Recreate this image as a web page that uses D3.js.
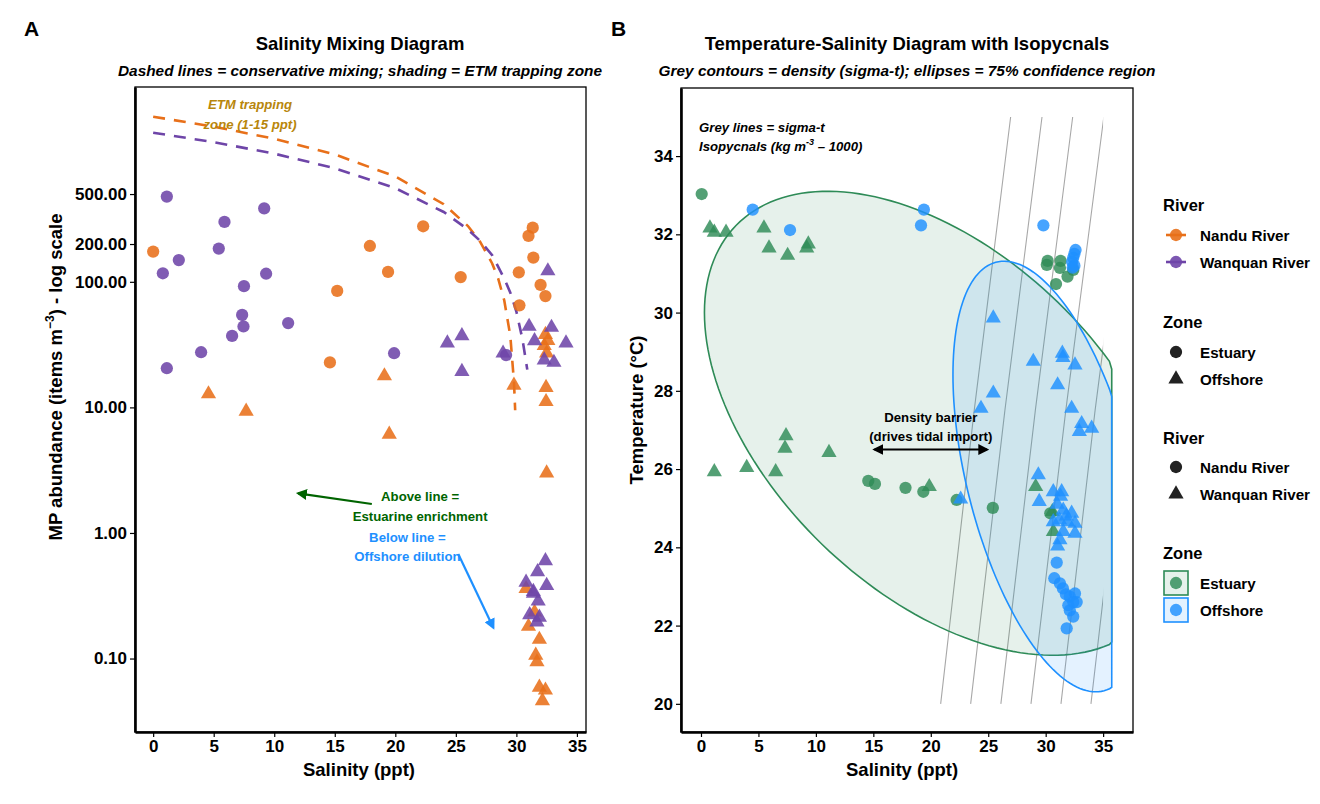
<!DOCTYPE html>
<html lang="en">
  <head>
    <meta charset="UTF-8" />
    <title>Salinity mixing and T-S diagram</title>
    <style>
      body { margin: 0; background: #fff; }
      text { font-family: "Liberation Sans", Arial, sans-serif; }
    </style>
  </head>
  <body>
    <svg id="svg" width="1320" height="804"></svg>

    <script src="https://d3js.org/d3.v7.min.js"></script>
    <script>
      // ---- panel A data: salinity (ppt) and MP abundance (items m-3)
      const nanduEstuaryA = [
        [0.0, 174], [14.6, 22.8], [15.2, 84.7], [17.9, 193], [19.4, 120], [22.3, 277],
        [25.4, 109], [30.2, 119], [30.25, 65], [31.0, 232], [31.35, 270], [31.4, 156],
        [32.0, 94.5], [32.4, 77]
      ];
      const wanquanEstuaryA = [
        [0.8, 117], [1.13, 477], [1.13, 20.5], [2.12, 149], [3.96, 27.5], [5.42, 184],
        [5.89, 300], [6.52, 37.1], [7.35, 54.5], [7.46, 44.1], [7.5, 92.3], [9.17, 385],
        [9.33, 116], [11.15, 46.9], [19.9, 27.0], [29.15, 26.1]
      ];
      const nanduOffshoreA = [
        [4.57, 12.8], [7.68, 9.3], [19.1, 17.8], [19.5, 6.1], [29.8, 15.0], [32.45, 14.4],
        [32.45, 11.1], [32.4, 38], [32.6, 34], [32.3, 31], [32.5, 27], [32.5, 3.0],
        [30.8, 0.36], [31.0, 0.18], [31.5, 0.234], [31.9, 0.142], [31.6, 0.106],
        [31.7, 0.094], [31.9, 0.059], [32.4, 0.056], [32.15, 0.046]
      ];
      const wanquanOffshoreA = [
        [24.3, 32.5], [25.5, 37.2], [25.5, 19.3], [28.9, 27.0], [31.05, 44.1], [31.5, 33.9],
        [32.6, 122], [32.9, 43.3], [34.1, 32.5], [32.3, 23.8], [33.1, 22.8],
        [32.4, 0.6], [31.75, 0.49], [30.8, 0.405], [32.5, 0.381], [31.4, 0.341],
        [31.8, 0.286], [31.1, 0.223], [31.9, 0.213], [31.7, 0.195], [31.4, 0.33]
      ];
      // conservative mixing lines
      const mixNandu = [
        [0, 2065], [5, 1721], [10, 1378], [15, 1034], [20, 690], [24, 415], [26, 278],
        [27, 209], [28, 140], [28.5, 106], [29, 71], [29.5, 37], [29.8, 16], [29.9, 9.5]
      ];
      const mixWanquan = [
        [0, 1541], [5, 1295], [10, 1049], [15, 803], [20, 557], [24, 360], [26, 261],
        [27, 212], [28, 163], [29, 106], [29.5, 82], [30, 58], [30.5, 35], [30.9, 20]
      ];
      const salTicks = [0, 5, 10, 15, 20, 25, 30, 35];
      const mpTicks = [0.1, 1, 10, 100, 200, 500];
      const mpLabels = ["0.10", "1.00", "10.00", "100.00", "200.00", "500.00"];

      // ---- panel B data: salinity (ppt) and temperature (degC)
      const estuaryNanduB = [
        [0.06, 33.03], [14.56, 25.7], [15.14, 25.62], [17.8, 25.52], [19.35, 25.42],
        [22.25, 25.21], [25.4, 25.01], [30.17, 31.32], [30.1, 31.22], [31.3, 31.32],
        [31.24, 31.14], [31.9, 30.92], [30.9, 30.73], [32.4, 31.09], [30.4, 24.87]
      ];
      const estuaryWanquanB = [
        [0.78, 32.16], [1.16, 32.05], [2.18, 32.05], [5.48, 32.16], [5.92, 31.65],
        [7.54, 31.46], [9.34, 31.75], [9.2, 31.65], [1.16, 25.93], [3.98, 26.04],
        [6.5, 25.93], [7.4, 26.85], [7.31, 26.53], [11.14, 26.42], [19.87, 25.55],
        [29.13, 25.55], [30.58, 24.91], [30.67, 24.4]
      ];
      const offshoreNanduB = [
        [4.5, 32.63], [7.75, 32.11], [19.4, 32.63], [19.15, 32.23], [29.8, 32.23],
        [32.6, 31.6], [32.5, 31.5], [32.4, 31.4], [32.3, 31.3], [32.5, 31.2], [32.35, 31.15],
        [30.96, 23.61], [30.75, 23.21], [31.24, 23.08], [31.5, 22.95], [31.76, 22.8],
        [32.1, 22.74], [32.55, 22.82], [32.4, 22.6], [31.97, 22.52], [32.1, 22.39],
        [32.4, 22.23], [31.83, 21.93], [32.7, 22.6]
      ];
      const offshoreWanquanB = [
        [22.6, 25.23], [25.44, 29.86], [28.92, 28.75], [31.45, 28.96], [31.5, 28.85],
        [32.55, 28.66], [31.04, 28.15], [25.44, 27.94], [24.37, 27.55], [32.26, 27.55],
        [33.13, 27.16], [32.93, 26.96], [34.0, 27.04], [29.36, 25.85], [29.44, 25.17],
        [30.66, 25.42], [31.39, 25.42], [31.0, 25.1], [31.53, 24.95], [32.26, 24.87],
        [30.66, 24.65], [31.2, 24.7], [31.9, 24.65], [32.55, 24.61], [31.53, 24.4],
        [32.55, 24.36], [31.24, 24.19], [31.04, 24.03], [31.3, 25.3], [31.8, 24.8]
      ];
      // sigma-t isopycnals: salinity at T = 20, 27.5, 35 degC
      const isoTemps = [20, 27.5, 35];
      const isoSal = [
        [20.86, 23.78, 26.95], [23.47, 26.45, 29.68], [26.1, 29.1, 32.35],
        [28.72, 31.75, 35.06], [31.33, 34.3, 37.6], [33.94, 36.9, 40.2]
      ];
      // 75% ellipses: centre, half-diameter along x (with its T shift), vertical conjugate
      const ellipseEstuary = { s: 20.8, t: 27.17, ds: -20.5, dt: 2.83, vt: 5.21 };
      const ellipseOffshore = { s: 30.37, t: 25.81, ds: -8.44, dt: 2.6, vt: 4.85 };
      const tempTicks = [20, 22, 24, 26, 28, 30, 32, 34];

      const orange = "#E8701A", purple = "#6E45A8";
      const green = "#2E8B57", blue = "#1E90FF";

      const svg = d3.select("#svg");
      svg.append("rect").attr("width", 1320).attr("height", 804).attr("fill", "#fff");

      const defs = svg.append("defs");
      function marker(id, color) {
        defs.append("marker")
          .attr("id", id).attr("viewBox", "0 0 10 10")
          .attr("refX", 8).attr("refY", 5)
          .attr("markerWidth", 5).attr("markerHeight", 5)
          .attr("orient", "auto-start-reverse")
          .append("path").attr("d", "M0,0 L10,5 L0,10 z").attr("fill", color);
      }
      marker("arrGreen", "#006400");
      marker("arrBlue", blue);
      marker("arrBlack", "#000");

      const circ = d3.symbol().type(d3.symbolCircle).size(118)();
      const tri = d3.symbol().type(d3.symbolTriangle).size(100)();

      function styleAxis(g) {
        g.selectAll(".tick text").attr("font-size", 17).attr("font-weight", "bold")
          .attr("fill", "#000").style("font-family", "'Liberation Sans', Arial, sans-serif");
        g.selectAll(".tick line").attr("stroke", "#000").attr("stroke-width", 1.2);
        g.select(".domain").attr("stroke", "#000").attr("stroke-width", 2.6);
      }

      function panelFrame(x0, x1, y0, y1) {
        svg.append("rect").attr("x", x0).attr("y", y0)
          .attr("width", x1 - x0).attr("height", y1 - y0)
          .attr("fill", "none").attr("stroke", "#000").attr("stroke-width", 1.3);
      }

      function title(cx, main, sub) {
        svg.append("text").attr("x", cx).attr("y", 50).attr("text-anchor", "middle")
          .attr("font-size", 18.5).attr("font-weight", "bold").text(main);
        svg.append("text").attr("x", cx).attr("y", 76).attr("text-anchor", "middle")
          .attr("font-size", 15.4).attr("font-weight", "bold").attr("font-style", "italic").text(sub);
      }

      // ================= Panel A =================
      const xA = d3.scaleLinear().domain([-1.5, 35.75]).range([135, 586]);
      const yA = d3.scaleLog().domain([0.026, 3560]).range([732, 87]);

      svg.append("text").attr("x", 24).attr("y", 36).attr("font-size", 21)
        .attr("font-weight", "bold").text("A");
      title(360, "Salinity Mixing Diagram",
        "Dashed lines = conservative mixing; shading = ETM trapping zone");
      panelFrame(135, 586, 87, 732);

      const gA = svg.append("g");
      const lineA = d3.line().x(d => xA(d[0])).y(d => yA(d[1]));
      gA.append("path").datum(mixNandu).attr("d", lineA).attr("fill", "none")
        .attr("stroke", orange).attr("stroke-width", 2.6).attr("stroke-dasharray", "12,9");
      gA.append("path").datum(mixWanquan).attr("d", lineA).attr("fill", "none")
        .attr("stroke", purple).attr("stroke-width", 2.6).attr("stroke-dasharray", "12,9");

      function pointsA(data, color, shape) {
        gA.append("g").selectAll("path").data(data).join("path")
          .attr("d", shape)
          .attr("transform", d => `translate(${xA(d[0])},${yA(d[1])})`)
          .attr("fill", color).attr("opacity", 0.88);
      }
      pointsA(nanduEstuaryA, orange, circ);
      pointsA(wanquanEstuaryA, purple, circ);
      pointsA(nanduOffshoreA, orange, tri);
      pointsA(wanquanOffshoreA, purple, tri);

      // annotations A
      const etm = svg.append("text").attr("text-anchor", "middle").attr("font-size", 13.2)
        .attr("font-weight", "bold").attr("font-style", "italic").attr("fill", "#B8860B");
      etm.append("tspan").attr("x", xA(8)).attr("y", yA(2588) + 5).text("ETM trapping");
      etm.append("tspan").attr("x", xA(8)).attr("y", yA(1791) + 5).text("zone (1-15 ppt)");

      svg.append("line").attr("x1", xA(18.06)).attr("y1", yA(1.7))
        .attr("x2", xA(11.97)).attr("y2", yA(2.07))
        .attr("stroke", "#006400").attr("stroke-width", 2.2).attr("marker-end", "url(#arrGreen)");
      const above = svg.append("text").attr("text-anchor", "middle").attr("font-size", 13.2)
        .attr("font-weight", "bold").attr("fill", "#006400");
      above.append("tspan").attr("x", xA(22.05)).attr("y", yA(1.97) + 5).text("Above line =");
      above.append("tspan").attr("x", xA(22.05)).attr("y", yA(1.36) + 5).text("Estuarine enrichment");

      const below = svg.append("text").attr("text-anchor", "middle").attr("font-size", 13.2)
        .attr("font-weight", "bold").attr("fill", blue);
      below.append("tspan").attr("x", xA(21)).attr("y", yA(0.93) + 5).text("Below line =");
      below.append("tspan").attr("x", xA(21)).attr("y", yA(0.656) + 5).text("Offshore dilution");
      svg.append("line").attr("x1", xA(25.2)).attr("y1", yA(0.68))
        .attr("x2", xA(28.1)).attr("y2", yA(0.176))
        .attr("stroke", blue).attr("stroke-width", 2.2).attr("marker-end", "url(#arrBlue)");

      // axes A
      svg.append("g").attr("transform", "translate(0,732)")
        .call(d3.axisBottom(xA).tickValues(salTicks).tickSize(5).tickSizeOuter(0).tickPadding(3))
        .call(styleAxis);
      svg.append("g").attr("transform", "translate(135,0)")
        .call(d3.axisLeft(yA).tickValues(mpTicks).tickFormat((d, i) => mpLabels[i])
          .tickSize(5).tickSizeOuter(0).tickPadding(3))
        .call(styleAxis);
      svg.append("text").attr("x", xA(17)).attr("y", 776).attr("text-anchor", "middle")
        .attr("font-size", 18.5).attr("font-weight", "bold").text("Salinity (ppt)");
      const ytA = svg.append("text").attr("transform", "translate(62,377) rotate(-90)")
        .attr("text-anchor", "middle").attr("font-size", 18.5).attr("font-weight", "bold");
      ytA.append("tspan").text("MP abundance (items m");
      ytA.append("tspan").attr("dy", -8).attr("font-size", 12).text("\u22123");
      ytA.append("tspan").attr("dy", 8).text(") - log scale");

      // ================= Panel B =================
      const xB = d3.scaleLinear().domain([-1.74, 37.6]).range([681, 1133]);
      const yB = d3.scaleLinear().domain([19.28, 35.74]).range([732, 88]);

      svg.append("text").attr("x", 611).attr("y", 36).attr("font-size", 21)
        .attr("font-weight", "bold").text("B");
      title(907, "Temperature-Salinity Diagram with Isopycnals",
        "Grey contours = density (sigma-t); ellipses = 75% confidence region");
      panelFrame(681, 1133, 88, 732);

      defs.append("clipPath").attr("id", "clipIso").append("rect")
        .attr("x", 681).attr("y", 88).attr("width", xB(35) - 681).attr("height", 644);

      const gB = svg.append("g");
      const lineB = d3.line().x(d => xB(d[0])).y(d => yB(d[1]));
      gB.append("g").attr("clip-path", "url(#clipIso)")
        .selectAll("path").data(isoSal).join("path")
        .attr("d", row => lineB(row.map((s, i) => [s, isoTemps[i]])))
        .attr("fill", "none").attr("stroke", "#A8A8A8").attr("stroke-width", 1.1);

      const sMax = 35.75;
      function ellipsePath(e) {
        const pts = d3.range(0, 361, 2).map(a => {
          const t = a * Math.PI / 180;
          const s = Math.min(sMax, e.s + e.ds * Math.cos(t));
          const T = e.t + e.dt * Math.cos(t) + e.vt * Math.sin(t);
          return [s, T];
        });
        return lineB(pts) + "Z";
      }
      gB.append("path").attr("d", ellipsePath(ellipseEstuary))
        .attr("fill", green).attr("fill-opacity", 0.12)
        .attr("stroke", green).attr("stroke-width", 1.6);
      gB.append("path").attr("d", ellipsePath(ellipseOffshore))
        .attr("fill", blue).attr("fill-opacity", 0.12)
        .attr("stroke", blue).attr("stroke-width", 1.6);

      function pointsB(data, color, shape) {
        gB.append("g").selectAll("path").data(data).join("path")
          .attr("d", shape)
          .attr("transform", d => `translate(${xB(d[0])},${yB(d[1])})`)
          .attr("fill", color).attr("opacity", 0.82);
      }
      pointsB(estuaryNanduB, green, circ);
      pointsB(estuaryWanquanB, green, tri);
      pointsB(offshoreNanduB, blue, circ);
      pointsB(offshoreWanquanB, blue, tri);

      // annotations B
      const iso = svg.append("text").attr("font-size", 13.2).attr("font-weight", "bold")
        .attr("font-style", "italic");
      iso.append("tspan").attr("x", 699).attr("y", 132).text("Grey lines = sigma-t");
      const iso2 = iso.append("tspan").attr("x", 699).attr("y", 151);
      iso2.text("Isopycnals (kg m");
      iso.append("tspan").attr("dy", -6).attr("font-size", 9).text("-3");
      iso.append("tspan").attr("dy", 6).text(" \u2013 1000)");

      const dens = svg.append("text").attr("text-anchor", "middle").attr("font-size", 13.2)
        .attr("font-weight", "bold");
      dens.append("tspan").attr("x", xB(20)).attr("y", yB(27.33) + 5).text("Density barrier");
      dens.append("tspan").attr("x", xB(20)).attr("y", yB(26.84) + 5).text("(drives tidal import)");
      svg.append("line").attr("x1", xB(15.1)).attr("y1", yB(26.5))
        .attr("x2", xB(24.9)).attr("y2", yB(26.5))
        .attr("stroke", "#000").attr("stroke-width", 2.2)
        .attr("marker-start", "url(#arrBlack)").attr("marker-end", "url(#arrBlack)");

      // axes B
      svg.append("g").attr("transform", "translate(0,732)")
        .call(d3.axisBottom(xB).tickValues(salTicks).tickSize(5).tickSizeOuter(0).tickPadding(3))
        .call(styleAxis);
      svg.append("g").attr("transform", "translate(681,0)")
        .call(d3.axisLeft(yB).tickValues(tempTicks).tickSize(5).tickSizeOuter(0).tickPadding(3))
        .call(styleAxis);
      svg.append("text").attr("x", xB(17.5)).attr("y", 776).attr("text-anchor", "middle")
        .attr("font-size", 18.5).attr("font-weight", "bold").text("Salinity (ppt)");
      svg.append("text").attr("transform", "translate(643,410) rotate(-90)")
        .attr("text-anchor", "middle").attr("font-size", 18.5).attr("font-weight", "bold")
        .text("Temperature (\u00B0C)");

      // ================= Legends =================
      const legend = svg.append("g").attr("transform", "translate(1163,0)");
      function legTitle(y, txt) {
        legend.append("text").attr("x", 0).attr("y", y + 6).attr("font-size", 16.5)
          .attr("font-weight", "bold").text(txt);
      }
      function legLabel(y, txt) {
        legend.append("text").attr("x", 37).attr("y", y + 5.5).attr("font-size", 15.2)
          .attr("font-weight", "bold").text(txt);
      }
      legTitle(205, "River");
      [[235, orange, "Nandu River"], [262, purple, "Wanquan River"]].forEach(([y, c, t]) => {
        legend.append("line").attr("x1", 3).attr("x2", 23).attr("y1", y).attr("y2", y)
          .attr("stroke", c).attr("stroke-width", 2.6);
        legend.append("path").attr("d", circ).attr("transform", `translate(13,${y})`)
          .attr("fill", c).attr("opacity", 0.9);
        legLabel(y, t);
      });
      legTitle(322, "Zone");
      legend.append("path").attr("d", circ).attr("transform", "translate(13,352)").attr("fill", "#222");
      legLabel(352, "Estuary");
      legend.append("path").attr("d", tri).attr("transform", "translate(13,379)").attr("fill", "#222");
      legLabel(379, "Offshore");

      legTitle(438, "River");
      legend.append("path").attr("d", circ).attr("transform", "translate(13,467)").attr("fill", "#222");
      legLabel(467, "Nandu River");
      legend.append("path").attr("d", tri).attr("transform", "translate(13,494)").attr("fill", "#222");
      legLabel(494, "Wanquan River");

      legTitle(553, "Zone");
      [[583, green, "Estuary"], [610, blue, "Offshore"]].forEach(([y, c, t]) => {
        legend.append("rect").attr("x", 1).attr("y", y - 12).attr("width", 24).attr("height", 24)
          .attr("fill", c).attr("fill-opacity", 0.12).attr("stroke", c).attr("stroke-width", 1.6);
        legend.append("path").attr("d", circ).attr("transform", `translate(13,${y})`)
          .attr("fill", c).attr("opacity", 0.82);
        legLabel(y, t);
      });
    </script>
  </body>
</html>
